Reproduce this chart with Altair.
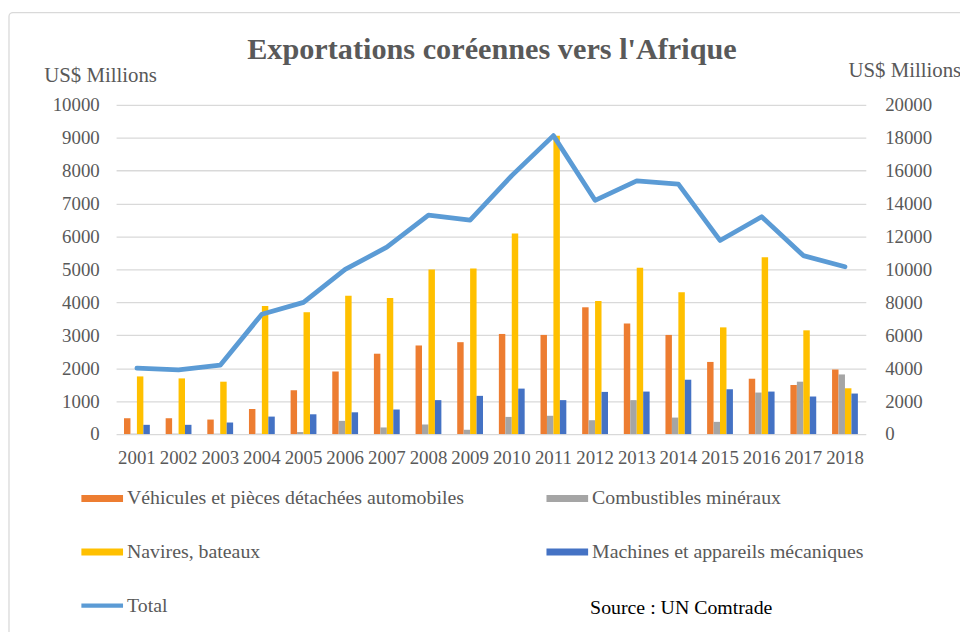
import altair as alt
import pandas as pd

YEARS = [str(y) for y in range(2001, 2019)]
VEHICULES = [480, 480, 440, 760, 1330, 1900, 2440, 2690, 2790, 3040, 3010, 3850, 3360, 3010, 2190, 1680, 1490, 1960]
COMBUSTIBLES = [10, 10, 10, 10, 60, 400, 200, 290, 130, 520, 555, 420, 1030, 500, 370, 1260, 1590, 1810]
NAVIRES = [1750, 1690, 1590, 3890, 3700, 4200, 4130, 5000, 5030, 6090, 9060, 4040, 5050, 4310, 3240, 5370, 3150, 1390]
MACHINES = [280, 280, 350, 530, 600, 660, 745, 1030, 1160, 1380, 1030, 1280, 1290, 1650, 1360, 1290, 1140, 1230]
TOTAL = [4000, 3900, 4180, 7280, 8000, 10000, 11350, 13300, 13000, 15700, 18130, 14200, 15380, 15180, 11760, 13200, 10840, 10160]

SERIES_BARS = [
    "Véhicules et pièces détachées automobiles",
    "Combustibles minéraux",
    "Navires, bateaux",
    "Machines et appareils mécaniques",
]
SERIES_ALL = SERIES_BARS + ["Total"]
COLORS = ["#ed7d31", "#a5a5a5", "#ffc000", "#4472c4", "#5b9bd5"]
SHAPES = ["M-1,-0.17H1V0.17H-1Z"] * 4 + ["M-1,-0.105H1V0.105H-1Z"]

TITLE = "Exportations coréennes vers l'Afrique"
YTITLE = "US$ Millions"
SOURCE = "Source : UN Comtrade"

FONT = "Liberation Serif"
GREY = "#595959"

rows = []
for name, vals in zip(SERIES_BARS, [VEHICULES, COMBUSTIBLES, NAVIRES, MACHINES]):
    for y, v in zip(YEARS, vals):
        rows.append({"year": y, "series": name, "value": v})
df_bars = pd.DataFrame(rows)
df_total = pd.DataFrame({"year": YEARS, "total": TOTAL})
df_legend = pd.DataFrame({"series": SERIES_ALL})
df_source = pd.DataFrame({"t": [SOURCE]})
df_title = pd.DataFrame({"t": [TITLE]})

W, H = 756, 332

leg = alt.Legend(title=None, columns=2, direction="horizontal", orient="none",
                 legendX=-35, legendY=376,
                 labelFont=FONT, labelFontSize=20, labelColor=GREY, labelOffset=4,
                 labelLimit=600, columnPadding=83, rowPadding=23,
                 symbolSize=1764, symbolStrokeWidth=0)

color_scale = alt.Scale(domain=SERIES_ALL, range=COLORS)

xenc = alt.X(
    "year:N",
    sort=YEARS,
    scale=alt.Scale(paddingInner=0.38, paddingOuter=0.19),
    axis=alt.Axis(title=None, labelAngle=0, ticks=False, domain=False,
                  labelFont=FONT, labelFontSize=19, labelColor=GREY,
                  labelPadding=15, grid=False),
)

bars = alt.Chart(df_bars).mark_bar().encode(
    x=xenc,
    xOffset=alt.XOffset("series:N", sort=SERIES_BARS,
                        scale=alt.Scale(domain=SERIES_BARS, paddingInner=0, paddingOuter=0)),
    y=alt.Y("value:Q", scale=alt.Scale(domain=[0, 10000]),
            axis=alt.Axis(orient="left", values=list(range(0, 10001, 1000)), format="d",
                          ticks=False, domain=False, grid=True, gridColor="#d9d9d9", gridWidth=1.3,
                          labelFont=FONT, labelFontSize=19, labelColor=GREY, labelPadding=17,
                          title=YTITLE, titleAngle=0, titleFont=FONT, titleFontSize=21,
                          titleFontWeight="normal", titleColor=GREY, titleAlign="left",
                          titleBaseline="alphabetic", titleX=-73, titleY=-23)),
    color=alt.Color("series:N", scale=color_scale, legend=leg),
)

line = alt.Chart(df_total).mark_line(color="#5b9bd5", strokeWidth=4.8, strokeCap="round",
                                      strokeJoin="round").encode(
    x=alt.X("year:N", sort=YEARS),
    y=alt.Y("total:Q", scale=alt.Scale(domain=[0, 20000]),
            axis=alt.Axis(orient="right", values=list(range(0, 20001, 2000)), format="d",
                          ticks=False, domain=False, grid=False,
                          labelFont=FONT, labelFontSize=19, labelColor=GREY, labelPadding=19,
                          title=YTITLE, titleAngle=0, titleFont=FONT, titleFontSize=21,
                          titleFontWeight="normal", titleColor=GREY, titleAlign="left",
                          titleBaseline="alphabetic", titleX=-18, titleY=-29)),
)

legend_layer = alt.Chart(df_legend).transform_filter("false").mark_point(
    filled=True, opacity=1, size=1764).encode(
    color=alt.Color("series:N", scale=color_scale, legend=leg),
    shape=alt.Shape("series:N", scale=alt.Scale(domain=SERIES_ALL, range=SHAPES), legend=leg),
)

source = alt.Chart(df_source).mark_text(font=FONT, fontSize=20, color="#000000",
                                        align="left", baseline="middle").encode(
    text="t:N", x=alt.value(478), y=alt.value(507))

title = alt.Chart(df_title).mark_text(font=FONT, fontSize=30.5, fontWeight="bold", color=GREY,
                                      align="center", baseline="alphabetic").encode(
    text="t:N", x=alt.value(W / 2 + 1), y=alt.value(-46))

frame = alt.Chart(df_source).mark_rect(fillOpacity=0, stroke="#d9d9d9", strokeWidth=1.3,
                                       cornerRadius=4).encode(
    x=alt.value(-108), x2=alt.value(W + 200), y=alt.value(-93), y2=alt.value(H + 300))

chart = alt.layer(frame, bars, line, legend_layer, source, title).resolve_scale(
    y="independent"
).properties(
    width=W, height=H,
    autosize=alt.AutoSizeParams(type="none"),
    padding={"left": 109, "top": 95, "right": 95, "bottom": 197},
    background="white",
).configure_view(stroke=None)

chart.save("out.html", embed_options={"renderer": "svg", "actions": False})
